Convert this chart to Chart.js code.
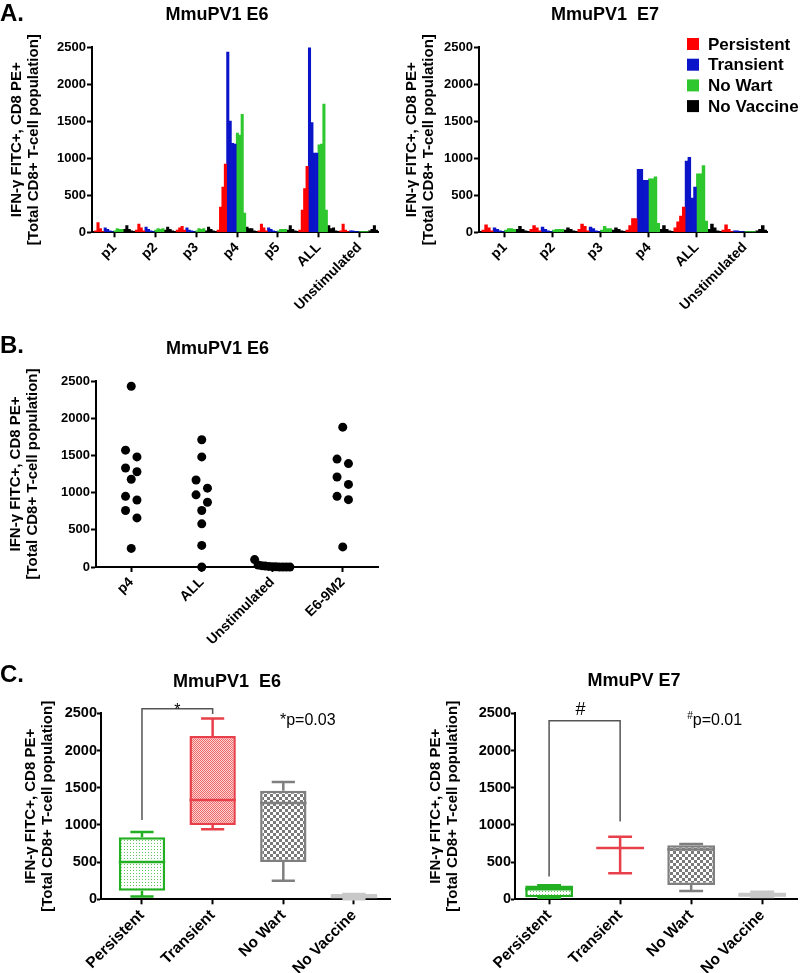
<!DOCTYPE html>
<html><head><meta charset="utf-8">
<script src="https://cdn.jsdelivr.net/npm/chart.js@4.4.1/dist/chart.umd.min.js"></script>
<style>
html,body{margin:0;padding:0;background:#fff;overflow:hidden;}
#page{position:relative;width:800px;height:973px;overflow:hidden;background:#fff;}
canvas{position:absolute;}
.lab{position:absolute;left:0;font:bold 24px 'Liberation Sans',Arial,sans-serif;line-height:24px;color:#000;}
</style></head><body>
<div id="page">
<canvas id="cA1" width="400" height="310" style="left:0;top:0"></canvas>
<canvas id="cA2" width="400" height="310" style="left:400px;top:0"></canvas>
<canvas id="cB" width="400" height="330" style="left:0;top:320px"></canvas>
<canvas id="cC1" width="400" height="323" style="left:0;top:650px"></canvas>
<canvas id="cC2" width="400" height="323" style="left:400px;top:650px"></canvas>
<div class="lab" style="top:1px">A.</div>
<div class="lab" style="top:333px">B.</div>
<div class="lab" style="top:662px">C.</div>
</div>
<script>
// ---------------- DATA ----------------
const seriesNames = ['Persistent', 'Transient', 'No Wart', 'No Vaccine'];
const seriesColors = ['#ff0000', '#0a14c8', '#2ec82e', '#000000'];
const yTitle = ['IFN-\u03b3 FITC+, CD8 PE+', '[Total CD8+ T-cell population]'];

// Panel A – MmuPV1 E6 (values per mouse, per peptide group)
const groupsE6 = ['p1', 'p2', 'p3', 'p4', 'p5', 'ALL', 'Unstimulated'];
const e6Persistent = [[20,130,50,10],[30,110,60,20],[30,60,80,30],[30,340,610,920],[20,110,60,20],[30,300,590,890],[20,110,30,10]];
const e6Transient  = [[60,40,20,10],[70,40,20,10],[60,30,20,10],[2430,1500,1200,1190],[60,40,20,10],[2490,1480,1070,1070],[20,20,10,10]];
const e6NoWart     = [[20,50,40,40],[30,50,40,50],[20,50,40,50],[1340,1310,1590,260],[20,40,40,40],[1180,1190,1730,300],[10,10,10,10]];
const e6NoVaccine  = [[40,90,40,20],[30,70,40,20],[20,70,40,20],[70,50,50,20],[30,90,40,20],[90,50,60,20],[20,40,90,30]];

// Panel A – MmuPV1 E7
const groupsE7 = ['p1', 'p2', 'p3', 'p4', 'ALL', 'Unstimulated'];
const e7Persistent = [[30,100,60,20],[40,90,60,20],[40,110,80,20],[30,90,185,185],[60,140,220,340],[30,100,40,10]];
const e7Transient  = [[60,40,20,10],[70,40,20,10],[70,50,20,10],[850,850,700,700],[960,1010,460,610],[20,20,10,10]];
const e7NoWart     = [[30,50,50,40],[30,40,40,40],[30,80,50,50],[720,720,750,120],[790,790,900,150],[10,10,10,10]];
const e7NoVaccine  = [[40,80,40,20],[30,60,40,20],[30,60,40,20],[40,90,40,20],[40,110,60,20],[20,40,90,30]];

// Panel B – MmuPV1 E6 scatter
const bGroups = ['p4', 'ALL', 'Unstimulated', 'E6-9M2'];
const bP4 = [2430, 1570, 1480, 1330, 1280, 1180, 950, 900, 760, 660, 250];
const bAll = [1710, 1480, 1170, 1060, 970, 870, 760, 580, 290, 0];
const bUnstim = [100, 27, 18, 12, 8, 5, 3, 0, 0, 0, 0];
const bE69M2 = [1880, 1450, 1390, 1210, 1110, 950, 905, 270];

// Panel C – box plots
const cGroups = ['Persistent', 'Transient', 'No Wart', 'No Vaccine'];
const cE6Min    = [36, 940, 250, 0];
const cE6Q1     = [115, 1000, 500, 10];
const cE6Median = [500, 1335, 1295, 40];
const cE6Q3     = [835, 2195, 1460, 70];
const cE6Max    = [905, 2430, 1575, 72];
const cE7Min    = [20, 350, 112, 30];
const cE7Q1     = [27, 690, 193, 35];
const cE7Median = [134, 690, 670, 55];
const cE7Q3     = [184, 690, 726, 90];
const cE7Max    = [190, 842, 744, 103];
const sigE6 = {from: 0, to: 1, leftBase: 1066, top: 2560, rightBase: 2490, mark: '*', sup: '', note: '*p=0.03'};
const sigE7 = {from: 0, to: 1, leftBase: 305, top: 2400, rightBase: 1045, mark: '#', sup: '#', note: 'p=0.01'};

// ---------------- HELPERS ----------------
const FAMILY = "'Liberation Sans', Arial, Helvetica, sans-serif";
Chart.defaults.font.family = FAMILY;
Chart.defaults.color = '#000';
Chart.defaults.animation = false;
Chart.defaults.plugins.tooltip.enabled = false;
Chart.defaults.plugins.legend.display = false;

const insideLegend = {
  id: 'insideLegend',
  afterDraw(chart, args, o) {
    if (!o || !o.display) return;
    const ctx = chart.ctx, {right, top} = chart.chartArea;
    ctx.save();
    ctx.font = 'bold 17px ' + FAMILY;
    ctx.textBaseline = 'middle'; ctx.textAlign = 'left';
    chart.data.datasets.forEach((ds, i) => {
      const y = top + o.dy + i * o.rowH, x = right + o.dx;
      ctx.fillStyle = ds.backgroundColor;
      ctx.fillRect(x, y - 6, 12, 12);
      ctx.fillStyle = '#000';
      ctx.fillText(ds.label, x + 21, y + 1);
    });
    ctx.restore();
  }
};
const boxWhisker = {
  id: 'boxWhisker',
  afterDatasetsDraw(chart, args, o) {
    if (!o || !o.display) return;
    const ys = chart.scales.y, ctx = chart.ctx, meta = chart.getDatasetMeta(0);
    ctx.save();
    ctx.lineWidth = 2.5;
    meta.data.forEach((bar, i) => {
      const x = bar.x, w = bar.width, cw = w * 0.5;
      const p = v => ys.getPixelForValue(v);
      ctx.strokeStyle = o.colors[i];
      ctx.beginPath();
      ctx.moveTo(x, p(o.q3[i])); ctx.lineTo(x, p(o.max[i]));
      ctx.moveTo(x - cw / 2, p(o.max[i])); ctx.lineTo(x + cw / 2, p(o.max[i]));
      ctx.moveTo(x, p(o.q1[i])); ctx.lineTo(x, p(o.min[i]));
      ctx.moveTo(x - cw / 2, p(o.min[i])); ctx.lineTo(x + cw / 2, p(o.min[i]));
      ctx.moveTo(x - w / 2, p(o.median[i])); ctx.lineTo(x + w / 2, p(o.median[i]));
      ctx.stroke();
    });
    ctx.restore();
  }
};
const sigPlugin = {
  id: 'sig',
  afterDatasetsDraw(chart, args, o) {
    if (!o || !o.display) return;
    const xs = chart.scales.x, ys = chart.scales.y, ctx = chart.ctx, s = o.sig;
    const x1 = xs.getPixelForValue(s.from), x2 = xs.getPixelForValue(s.to), yTop = ys.getPixelForValue(s.top);
    ctx.save();
    ctx.strokeStyle = '#555'; ctx.lineWidth = 1.5;
    ctx.beginPath();
    ctx.moveTo(x1, ys.getPixelForValue(s.leftBase)); ctx.lineTo(x1, yTop);
    ctx.lineTo(x2, yTop); ctx.lineTo(x2, ys.getPixelForValue(s.rightBase));
    ctx.stroke();
    ctx.fillStyle = '#000'; ctx.textAlign = 'center'; ctx.textBaseline = 'alphabetic';
    ctx.font = o.markSize + 'px ' + FAMILY;
    ctx.fillText(s.mark, (x1 + x2) / 2 + o.markDx, yTop + o.markDy);
    let nx = xs.getPixelForValue(o.noteX);
    const ny = ys.getPixelForValue(o.noteY);
    ctx.textAlign = 'left';
    if (s.sup) {
      ctx.font = '10px ' + FAMILY;
      ctx.fillText(s.sup, nx, ny - 6);
      nx += ctx.measureText(s.sup).width;
    }
    ctx.font = '16px ' + FAMILY;
    ctx.fillText(s.note, nx, ny);
    ctx.restore();
  }
};
Chart.register(insideLegend, boxWhisker, sigPlugin);

function yAxis(width, titlePad, tickSize, tickLen, tickPad) {
  return {
    type: 'linear', min: 0, max: 2500,
    ticks: {stepSize: 500, font: {size: tickSize, weight: 'bold'}, color: '#000', padding: tickPad, callback: v => String(v)},
    grid: {drawOnChartArea: false, tickLength: tickLen, tickWidth: 2, tickColor: '#000'},
    border: {color: '#000', width: 2},
    title: {display: true, text: yTitle, color: '#000',
            font: {size: 15, weight: 'bold', lineHeight: 1.1}, padding: {top: titlePad, bottom: 0}},
    afterFit(s) { s.width = width; }
  };
}
function xAxis(min, max, tickVals, labels, height, tickSize) {
  return {
    type: 'linear', min, max, offset: false,
    afterBuildTicks(s) { s.ticks = tickVals.map(v => ({value: v})); },
    ticks: {autoSkip: false, minRotation: 45, maxRotation: 45, font: {size: tickSize, weight: 'bold'}, color: '#000', padding: 2,
            callback: (v, i) => labels[i]},
    grid: {drawOnChartArea: false, offset: false, tickLength: 5, tickWidth: 2, tickColor: '#000'},
    border: {color: '#000', width: 2},
    afterFit(s) { s.height = height; }
  };
}
function titleOpt(text, top, bottom) {
  return {display: true, text, color: '#000', font: {size: 18, weight: 'bold'}, padding: {top, bottom}};
}
const SLOTS = 17;
function slotSeries(groups2d, colorIdx) {
  const pts = [];
  groups2d.forEach((vals, g) => vals.forEach((v, k) => pts.push({x: g + (1 + colorIdx * 4 + k + 0.5) / SLOTS, y: v})));
  return pts;
}
function barChartA(id, groups, series, title, tickShift, o) {
  new Chart(document.getElementById(id), {
    type: 'bar',
    data: {datasets: series.map((s, i) => ({
      label: seriesNames[i], data: slotSeries(s, i), backgroundColor: seriesColors[i], borderWidth: 0
    }))},
    options: {
      responsive: false,
      layout: {padding: {left: o.padLeft, right: o.padRight, top: 0, bottom: 0}},
      datasets: {bar: {grouped: false, barPercentage: 1, categoryPercentage: 1}},
      scales: {
        x: xAxis(0, groups.length, groups.map((_, g) => g + tickShift), groups, o.xHeight, 14),
        y: yAxis(o.yWidth, o.yTitlePad, 13, 5, 1)
      },
      plugins: {title: titleOpt(title, 4.2, 21.2), insideLegend: o.legend || {display: false}}
    }
  });
}
function swarm(values, center, step, maxHalf, bin) {
  const sorted = values.slice().sort((a, b) => b - a);
  const rows = [];
  sorted.forEach(v => {
    const r = rows[rows.length - 1];
    if (r && r[0] - v <= bin) r.push(v); else rows.push([v]);
  });
  const pts = [];
  rows.forEach(r => {
    const n = r.length;
    const sp = n > 1 ? Math.min(step, 2 * maxHalf / (n - 1)) : 0;
    r.forEach((v, i) => pts.push({x: center + (i - (n - 1) / 2) * sp, y: v}));
  });
  return pts;
}
function makePattern(w, h, draw) {
  const c = document.createElement('canvas'); c.width = w; c.height = h;
  const x = c.getContext('2d'); draw(x);
  return x.createPattern(c, 'repeat');
}
const patGreen = makePattern(3, 3, x => { x.fillStyle = '#ffffff'; x.fillRect(0, 0, 3, 3); x.fillStyle = '#5cc85c'; x.fillRect(1, 1, 1, 1); });
const patRed = makePattern(2, 2, x => { x.fillStyle = '#fbd3d3'; x.fillRect(0, 0, 2, 2); x.fillStyle = '#ee6a6a'; x.fillRect(0, 0, 1, 1); x.fillRect(1, 1, 1, 1); });
const patGray = makePattern(6, 6, x => { x.fillStyle = '#ffffff'; x.fillRect(0, 0, 6, 6); x.fillStyle = '#7a7a7a'; x.fillRect(0, 0, 3, 3); x.fillRect(3, 3, 3, 3); });
const boxFills = [patGreen, patRed, patGray, '#d2d2d2'];
const boxLines = ['#22b022', '#e8404a', '#7f7f7f', '#c8c8c8'];

function boxChart(id, title, q1, q3, stats, sig, o) {
  new Chart(document.getElementById(id), {
    type: 'bar',
    data: {datasets: [{
      label: 'box', data: cGroups.map((_, i) => ({x: i, y: [q1[i], q3[i]]})),
      backgroundColor: boxFills, borderColor: boxLines, borderWidth: 2.5, borderSkipped: false
    }]},
    options: {
      responsive: false,
      layout: {padding: {left: o.padLeft, right: o.padRight, top: 0, bottom: 0}},
      datasets: {bar: {barPercentage: o.pct, categoryPercentage: o.pct}},
      scales: {
        x: xAxis(o.xMin, o.xMax, [0, 1, 2, 3], cGroups, o.xHeight, 15.5),
        y: yAxis(o.yWidth, o.yTitlePad, 14.5, 4, 0)
      },
      plugins: {
        title: titleOpt(title, o.tTop, o.tBottom),
        boxWhisker: Object.assign({display: true, colors: boxLines}, stats),
        sig: Object.assign({display: true, sig}, o.sigOpt)
      }
    }
  });
}

// ---------------- CHARTS ----------------
barChartA('cA1', groupsE6, [e6Persistent, e6Transient, e6NoWart, e6NoVaccine], 'MmuPV1 E6', 0.55,
  {padLeft: 56, padRight: 22, xHeight: 77.7, yWidth: 36, yTitlePad: -47.25});
barChartA('cA2', groupsE7, [e7Persistent, e7Transient, e7NoWart, e7NoVaccine], 'MmuPV1  E7', 0.54,
  {padLeft: 43, padRight: 33, xHeight: 77.7, yWidth: 36, yTitlePad: -39.25,
   legend: {display: true, dx: -80, dy: -3, rowH: 20.7}});

new Chart(document.getElementById('cB'), {
  type: 'scatter',
  data: {datasets: [{
    label: 'MmuPV1 E6',
    data: [bP4, bAll, bUnstim, bE69M2].flatMap((vals, g) => swarm(vals, g, 0.162, 0.25, 120)),
    backgroundColor: '#000', borderWidth: 0, pointRadius: 4.5, clip: false
  }]},
  options: {
    responsive: false,
    layout: {padding: {left: 57, right: 22, top: 0, bottom: 0}},
    scales: {
      x: xAxis(-0.5, 3.5, [0, 1, 2, 3], bGroups, 83, 14),
      y: yAxis(39, -49.25, 13, 5, 1)
    },
    plugins: {title: titleOpt('MmuPV1 E6', 18.2, 21.2)}
  }
});

boxChart('cC1', 'MmuPV1  E6', cE6Q1, cE6Q3,
  {min: cE6Min, q1: cE6Q1, median: cE6Median, q3: cE6Q3, max: cE6Max}, sigE6,
  {padLeft: 64, padRight: 10, xMin: -0.58, xMax: 3.51, xHeight: 73.7, yWidth: 37, yTitlePad: -41.25, pct: 0.81,
   tTop: 21.2, tBottom: 20.5, sigOpt: {markSize: 16, markDx: 0, markDy: 6, noteX: 1.953, noteY: 2342}});
boxChart('cC2', 'MmuPV E7', cE7Q1, cE7Q3,
  {min: cE7Min, q1: cE7Q1, median: cE7Median, q3: cE7Q3, max: cE7Max}, sigE7,
  {padLeft: 71, padRight: 3, xMin: -0.48, xMax: 3.49, xHeight: 73.7, yWidth: 44, yTitlePad: -43.25, pct: 0.82,
   tTop: 20.2, tBottom: 21.5, sigOpt: {markSize: 18, markDx: -4, markDy: -6, noteX: 1.944, noteY: 2342}});
</script>
</body></html>
